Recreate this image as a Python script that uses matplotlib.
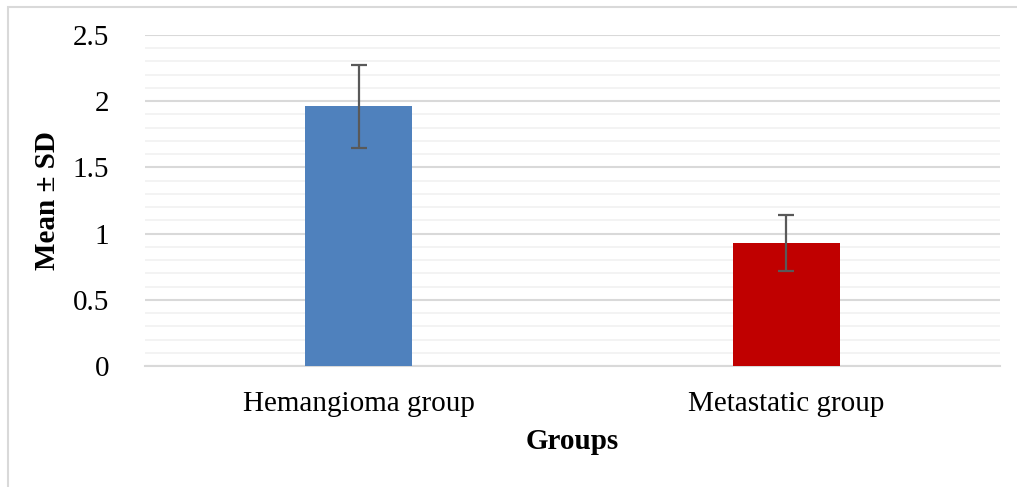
import matplotlib.pyplot as plt
from matplotlib.patches import Rectangle
from matplotlib.ticker import MultipleLocator

groups = ['Hemangioma group', 'Metastatic group']
means = [1.96, 0.93]
sds = [0.31, 0.21]
colors = ['#4f81bd', '#c00000']

plt.rcParams['font.family'] = ['Liberation Serif', 'DejaVu Serif']

fig = plt.figure(figsize=(10.17, 4.87), dpi=100)
ax = fig.add_axes([145 / 1017, 1 - 366 / 487, 855 / 1017, 331 / 487])

x = range(len(groups))
ax.bar(x, means, width=0.25, color=colors, zorder=3)
ax.errorbar(x, means, yerr=sds, fmt='none', ecolor='#595959',
            elinewidth=1.6, capsize=6, capthick=1.6, zorder=4)

ax.set_xlim(-0.5, 1.5)
ax.set_ylim(0, 2.5)
ax.yaxis.set_major_locator(MultipleLocator(0.5))
ax.yaxis.set_minor_locator(MultipleLocator(0.1))
ax.set_yticks([0, 0.5, 1, 1.5, 2, 2.5], ['0', '0.5', '1', '1.5', '2', '2.5'])
ax.set_xticks(list(x), groups)
ax.grid(axis='y', which='major', color='#d9d9d9', linewidth=1.5, zorder=0)
ax.grid(axis='y', which='minor', color='#f2f2f2', linewidth=1.3, zorder=0)

for s in ['top', 'right', 'left']:
    ax.spines[s].set_visible(False)
ax.spines['bottom'].set_color('#d9d9d9')
ax.spines['bottom'].set_linewidth(1.5)
ax.tick_params(axis='both', which='both', length=0, labelsize=21)
ax.tick_params(axis='y', pad=26)
ax.tick_params(axis='x', pad=18)

ax.set_xlabel('Groups', fontsize=21, fontweight='bold', labelpad=8)
ax.set_ylabel('Mean ± SD', fontsize=21, fontweight='bold', labelpad=8)

fig.patches.append(Rectangle((8 / 1017, -0.1), 1.2, 1 - 7 / 487 + 0.1,
                             transform=fig.transFigure, fill=False,
                             edgecolor='#d9d9d9', linewidth=1.5))

plt.savefig('out.png', dpi=100)
